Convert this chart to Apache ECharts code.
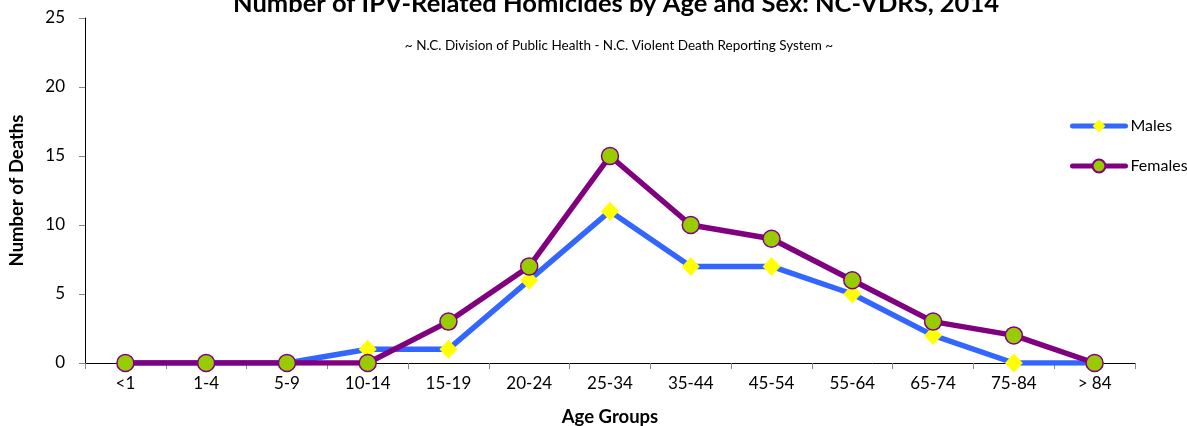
<!DOCTYPE html>
<html><head><meta charset="utf-8">
<script src="https://cdn.jsdelivr.net/npm/echarts@6/dist/echarts.min.js"></script>
<style>html,body{margin:0;padding:0;background:#fff}#c{width:1187px;height:426px}</style>
</head><body><div id="c"></div>
<script>
const categories = ['<1','1-4','5-9','10-14','15-19','20-24','25-34','35-44','45-54','55-64','65-74','75-84','> 84'];
const males = [0,0,0,1,1,6,11,7,7,5,2,0,0];
const females = [0,0,0,0,3,7,15,10,9,6,3,2,0];
const yTicks = [0,5,10,15,20,25];
const FONT = 'Lato, "Open Sans", sans-serif';
const chart = echarts.init(document.getElementById('c'));
chart.setOption({
  animation:false,
  backgroundColor:'#fff',
  title:[
    {text:'Number of IPV-Related Homicides by Age and Sex: NC-VDRS, 2014', left:611, textAlign:'center', top:-14,
     textStyle:{fontFamily:FONT,fontSize:25.5,fontWeight:'bold',color:'#000'}},
    {text:'~ N.C. Division of Public Health - N.C. Violent Death Reporting System ~', left:614, textAlign:'center', top:34,
     textStyle:{fontFamily:FONT,fontSize:13.5,fontWeight:'normal',color:'#000'}}
  ],
  legend:{
    orient:'vertical', left:1065, top:113, itemGap:24, itemWidth:53, itemHeight:16,
    textStyle:{fontFamily:FONT,fontSize:16,color:'#000',lineHeight:16},
    lineStyle:{width:5,cap:'round'},
    data:['Males','Females']
  },
  grid:{left:85,right:52,top:18,bottom:63,containLabel:false,outerBoundsMode:'none'},
  xAxis:{
    type:'category', data:categories, boundaryGap:true,
    name:'Age Groups', nameLocation:'middle', nameGap:45,
    nameTextStyle:{fontFamily:FONT,fontSize:18.5,fontWeight:'bold',color:'#000'},
    axisLine:{lineStyle:{color:'#000',width:1}},
    axisTick:{show:true,length:6,lineStyle:{color:'#888'}},
    axisLabel:{fontFamily:FONT,fontSize:17,color:'#000',margin:12}
  },
  yAxis:{
    type:'value', min:0, max:25, interval:5,
    name:'Number of Deaths', nameLocation:'middle', nameGap:58,
    nameTextStyle:{fontFamily:FONT,fontSize:18.5,fontWeight:'bold',color:'#000'},
    axisLine:{show:true,lineStyle:{color:'#000',width:1}},
    axisTick:{show:true,length:6,lineStyle:{color:'#888'}},
    axisLabel:{fontFamily:FONT,fontSize:17,color:'#000',margin:20,
      formatter:v=>yTicks.includes(v)?String(v):''},
    splitLine:{show:false}
  },
  series:[
    {name:'Males', type:'line', data:males, z:2,
     lineStyle:{color:'#3366FF',width:5.5},
     symbol:'diamond', symbolSize:[18,19],
     itemStyle:{color:'#FFFF00',borderWidth:0}},
    {name:'Females', type:'line', data:females, z:3,
     lineStyle:{color:'#800080',width:5.5},
     symbol:'circle', symbolSize:17,
     itemStyle:{color:'#99CC00',borderColor:'#800080',borderWidth:1.5}}
  ]
});
</script></body></html>
